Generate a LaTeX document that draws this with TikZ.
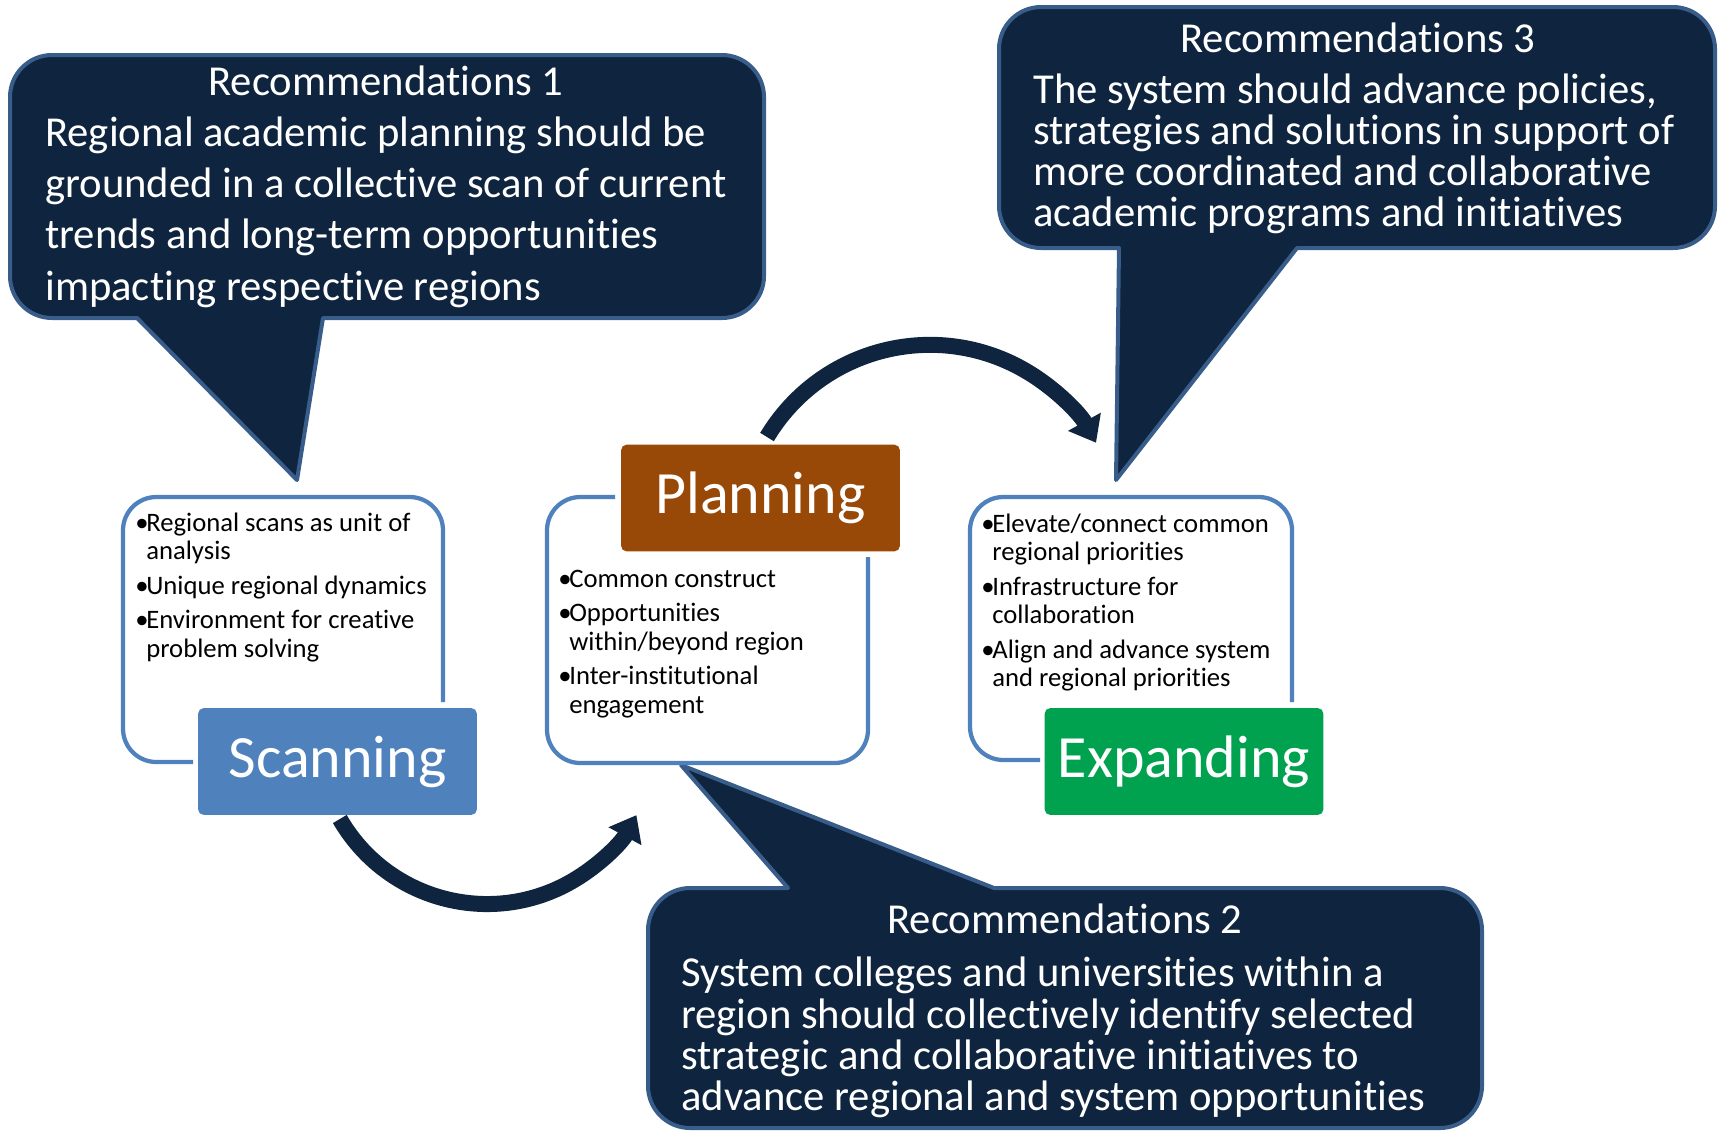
\documentclass[tikz,border=0pt]{standalone}
\usepackage{fontspec}
\setmainfont{Carlito}[Ligatures=NoCommon]
\usetikzlibrary{arrows.meta}
\definecolor{navy}{HTML}{0F243E}
\definecolor{calloutline}{HTML}{385D8A}
\definecolor{accblue}{HTML}{4F81BD}
\definecolor{planbrown}{HTML}{984807}
\definecolor{expgreen}{HTML}{00A14F}
\newcommand\mybul{\makebox[8.3pt][l]{•}}
\newcommand\myind{\hspace*{8.3pt}}
\newcommand\cstrut{\rule{0pt}{25pt}}
\newcommand\bstrut{\rule{0pt}{16pt}}
\tikzset{
  callout/.style={fill=navy, draw=calloutline, line width=3pt, line join=round},
  chead/.style={inner sep=0pt, text=white, font=\fontsize{32}{38}\selectfont},
  cbody/.style={inner sep=0pt, text=white, align=left, anchor=north west},
  bigarrow/.style={draw=navy, line width=12pt, -{Triangle[length=18pt,width=27pt]}},
  groupline/.style={draw=accblue, line width=3.2pt, rounded corners=25pt},
  stagebox/.style={rounded corners=4pt, minimum width=209pt, minimum height=80pt, inner sep=0pt, text=white, font=\fontsize{45}{54}\selectfont},
  bullets/.style={inner sep=0pt, text=black, align=left, anchor=north west, font=\fontsize{20}{21.4}\selectfont}
}
\begin{document}
\begin{tikzpicture}[x=0.75pt,y=-0.75pt]
\useasboundingbox (0,0) rectangle (1726,1133);
\lineskiplimit=-100pt
% callout 1
\draw[callout] (137,318) -- (297,480) -- (323,318) -- (722,318) arc[start angle=90,end angle=0,radius=42] -- (764,97) arc[start angle=0,end angle=-90,radius=42] -- (52,55) arc[start angle=-90,end angle=-180,radius=42] -- (10,276) arc[start angle=180,end angle=90,radius=42] -- cycle;
\node[chead, anchor=base] (r1h) at (386,95) {Recommendations 1};
\node[cbody, font=\fontsize{32}{38.5}\selectfont] (r1b) at (45,112.67) {\cstrut Regional academic planning should be\\ grounded in a collective scan of current\\ trends and long-term opportunities\\ impacting respective regions};
% callout 3
\draw[callout] (1119,248) -- (1116,480) -- (1297,248) -- (1673,248) arc[start angle=90,end angle=0,radius=42] -- (1715,49) arc[start angle=0,end angle=-90,radius=42] -- (1041,7) arc[start angle=-90,end angle=-180,radius=42] -- (999,206) arc[start angle=180,end angle=90,radius=42] -- cycle;
\node[chead, anchor=base] (r3h) at (1358,52) {Recommendations 3};
\node[cbody, font=\fontsize{32}{30.75}\selectfont] (r3b) at (1033,70.17) {\cstrut The system should advance policies,\\ strategies and solutions in support of\\ more coordinated and collaborative\\ academic programs and initiatives};
% callout 2
\draw[callout] (788,888) -- (681,765) -- (994,888) -- (1440,888) arc[start angle=-90,end angle=0,radius=42] -- (1482,1086) arc[start angle=0,end angle=90,radius=42] -- (690,1128) arc[start angle=90,end angle=180,radius=42] -- (648,930) arc[start angle=180,end angle=270,radius=42] -- cycle;
\node[chead, anchor=base] (r2h) at (1065,933) {Recommendations 2};
\node[cbody, font=\fontsize{32}{31}\selectfont] (r2b) at (681,953.17) {\cstrut System colleges and universities within a\\ region should collectively identify selected\\ strategic and collaborative initiatives to\\ advance regional and system opportunities};
% arrows
\coordinate (a1s) at (339.8,819);
\coordinate (a2s) at (767,437);
\draw[bigarrow] (a1s) arc[start angle=150, end angle=28.5, radius=170];
\draw[bigarrow] (a2s) arc[start angle=-149, end angle=-29, radius=190];
% group outlines
\draw[groupline] (193,762) -- (123,762) -- (123,497) -- (443,497) -- (443,702);
\draw[groupline] (615,497) -- (547,497) -- (547,763) -- (868,763) -- (868,557);
\draw[groupline] (1040,760) -- (970,760) -- (970,497) -- (1292,497) -- (1292,702);
% stage boxes
\node[stagebox, fill=accblue] (scan) at (337.5,761.5) {Scanning};
\node[stagebox, fill=planbrown] (plan) at (760.5,498) {Planning};
\node[stagebox, fill=expgreen] (expand) at (1184,761.5) {Expanding};
% bullet texts
\node[bullets] (scanlist) at (135,509.67) {\bstrut\mybul Regional scans as unit of\\ \myind analysis\\[4.5pt] \mybul Unique regional dynamics\\[4.5pt] \mybul Environment for creative\\ \myind problem solving};
\node[bullets] (planlist) at (558,565.67) {\bstrut\mybul Common construct\\[4.5pt] \mybul Opportunities\\ \myind within/beyond region\\[4.5pt] \mybul Inter-institutional\\ \myind engagement};
\node[bullets] (explist) at (981,510.67) {\bstrut\mybul Elevate/connect common\\ \myind regional priorities\\[4.5pt] \mybul Infrastructure for\\ \myind collaboration\\[4.5pt] \mybul Align and advance system\\ \myind and regional priorities};
\end{tikzpicture}
\end{document}
